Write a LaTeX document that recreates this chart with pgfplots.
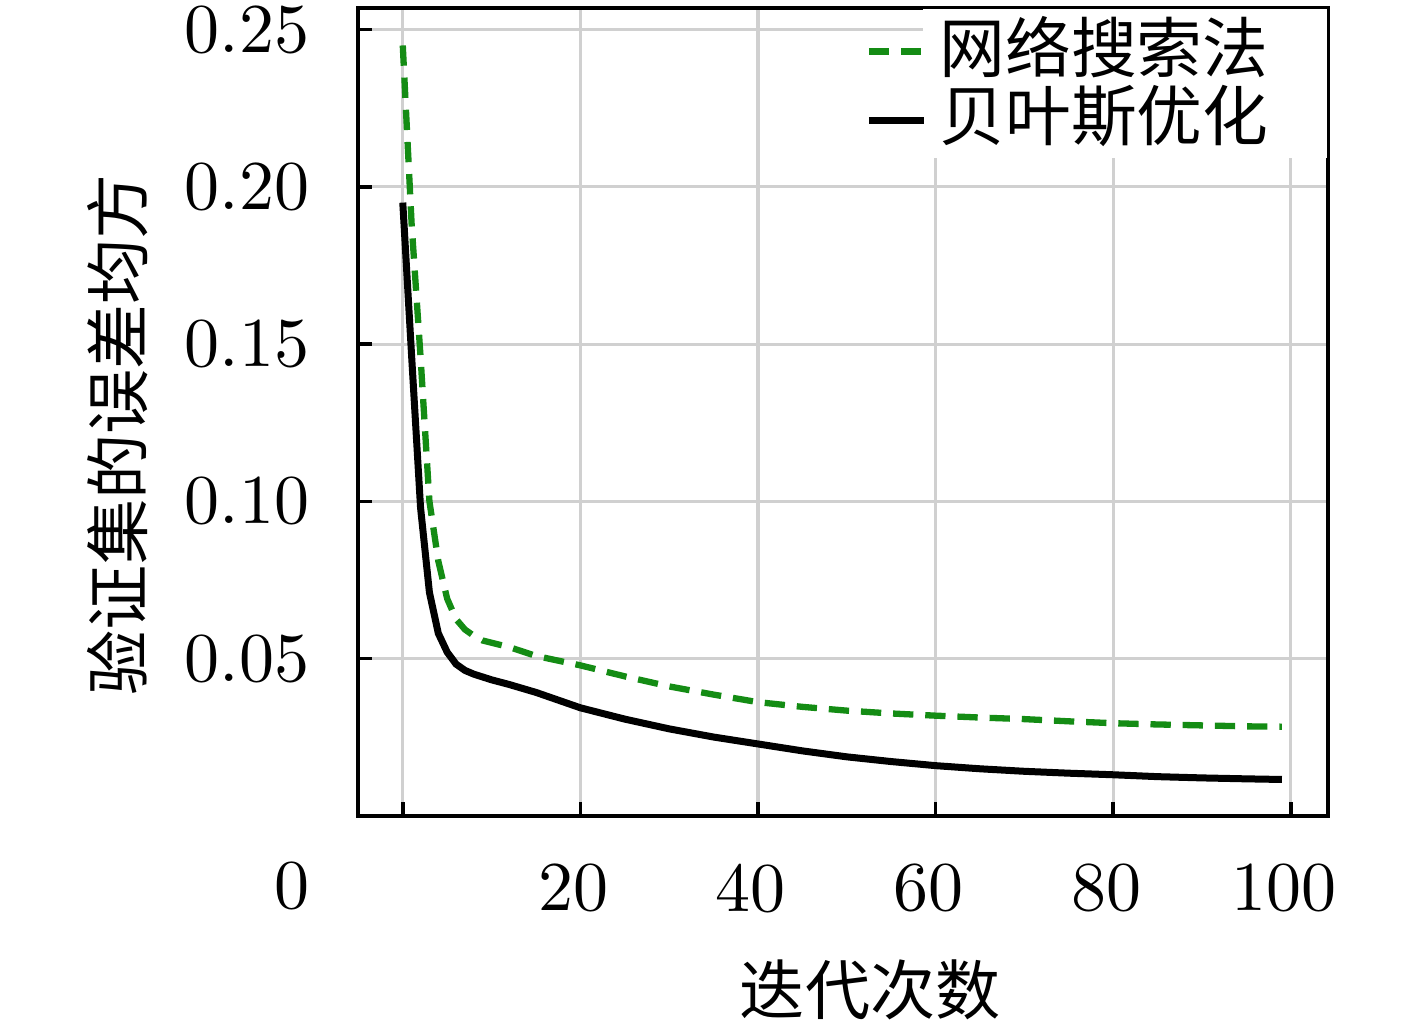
\documentclass[border=0pt]{standalone}
\usepackage{pgfplots}
\pgfplotsset{compat=1.18}
\usepackage{fontspec}
\newfontfamily\cjk{Noto Sans CJK SC}
\definecolor{dgreen}{RGB}{20,140,20}
\definecolor{gridc}{RGB}{208,208,208}

\pgfplotstableread{
x y
0 0.245
1 0.188
2 0.146
3 0.100
4 0.081
5 0.069
6 0.0625
7 0.0592
8 0.0572
9 0.0557
10 0.0550
12 0.0536
15 0.0508
20 0.0478
25 0.0443
30 0.0411
35 0.0385
40 0.0361
45 0.0346
50 0.0334
55 0.0325
60 0.0318
65 0.0312
70 0.0307
75 0.0300
80 0.0294
85 0.0290
90 0.0287
95 0.0284
99 0.0283
}\gridtab

\pgfplotstableread{
x y
0 0.195
1 0.146
2 0.098
3 0.071
4 0.058
5 0.052
6 0.0482
7 0.0462
8 0.0450
10 0.0432
12 0.0417
15 0.0392
20 0.0343
25 0.0307
30 0.0276
35 0.0250
40 0.0228
45 0.0206
50 0.0187
55 0.0172
60 0.0159
65 0.0149
70 0.0141
75 0.0135
80 0.0130
85 0.0124
90 0.0120
95 0.0117
99 0.0115
}\bayestab

\begin{document}
\begin{tikzpicture}
\begin{axis}[
  name=ax,
  at={(0,0)}, anchor=south west,
  scale only axis, width=138.6pt, height=115.4pt,
  xmin=-5.07, xmax=104.2, ymin=0, ymax=0.257,
  xtick={0,20,40,60,80,100}, xticklabels={,20,40,60,80,100},
  ytick={0.05,0.10,0.15,0.20,0.25},
  scaled y ticks=false,
  yticklabel style={/pgf/number format/fixed, /pgf/number format/fixed zerofill, /pgf/number format/precision=2, xshift=-3.4pt},
  xticklabel style={yshift=-3.4pt, xshift=-1pt},
  tick align=inside, tick pos=left, major tick length=2pt,
  tick style={line width=0.5pt, black},
  grid=major, major grid style={color=gridc, line width=0.45pt},
  axis line style={line width=0.6pt},
  xlabel={\cjk\fontsize{9.3}{11}\selectfont 迭代次数},
  xlabel style={at={(axis description cs:0.528,0)}, anchor=center, yshift=-24.9pt},
  ylabel={\cjk\fontsize{9.3}{11}\selectfont 验证集的误差均方},
  ylabel style={at={(axis description cs:-0.2475,0.4715)}, anchor=center},
  legend style={at={(rel axis cs:1,1)}, anchor=north east, fill=white, draw=none,
    inner xsep=1.4pt, inner ysep=1pt, row sep=0.4pt,
    nodes={inner sep=0pt}, font=\cjk\fontsize{9.4}{11}\selectfont},
  legend cell align=left,
  legend image code/.code={\draw[#1,overlay] (-9.6pt,-0.3pt) -- (-1.7pt,-0.3pt); \path (0,0);},
]
\addplot[dgreen, line width=0.9pt, dash pattern=on 2.9pt off 1.7pt] table[x=x,y=y] {\gridtab};
\addlegendentry{网络搜索法\rule{6.9pt}{0pt}}
\addplot[black, line width=1pt] table[x=x,y=y] {\bayestab};
\addlegendentry{贝叶斯优化\rule{6.9pt}{0pt}}
\end{axis}
\node[anchor=center] at (-9.4pt,-10.1pt) {$0$};
\pgfresetboundingbox
\path (-51.1pt,-30.6pt) rectangle (151.3pt,116.5pt);
\end{tikzpicture}
\end{document}
